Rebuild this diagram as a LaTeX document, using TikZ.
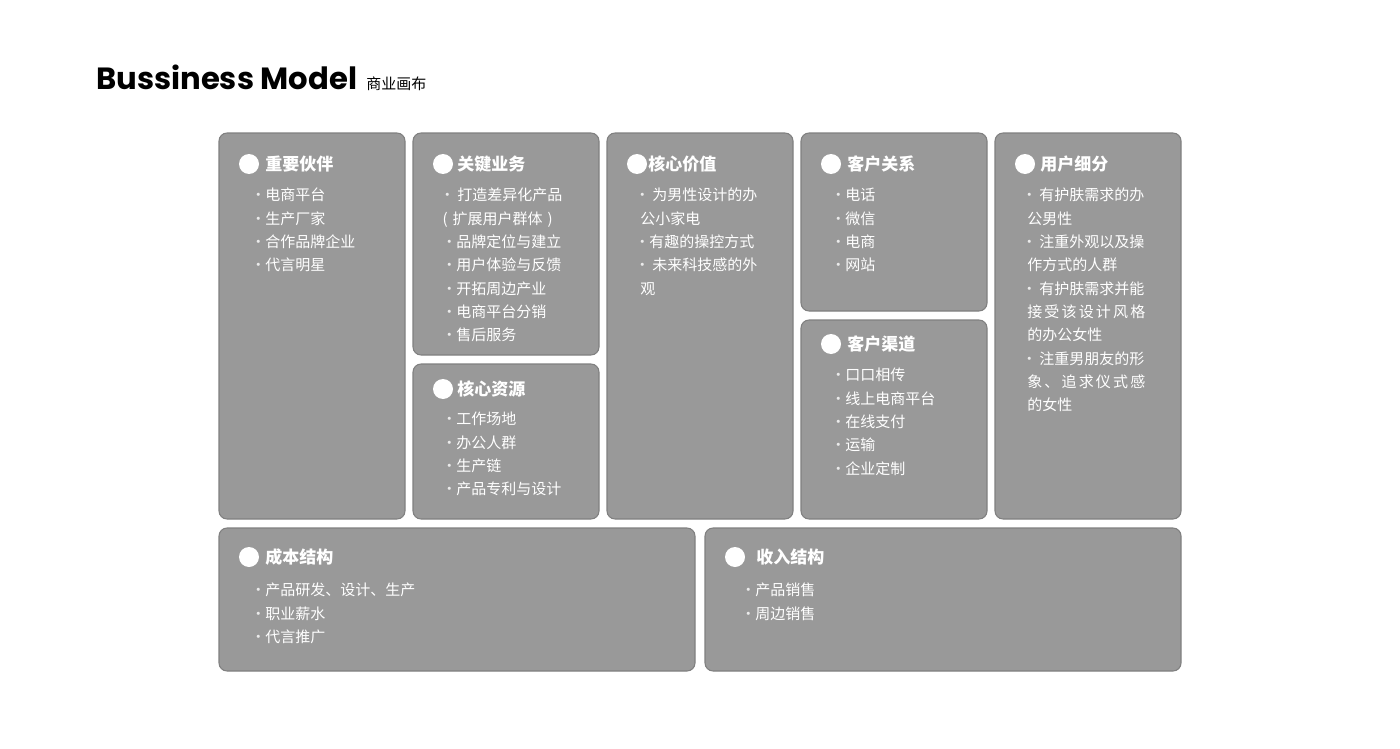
\documentclass[tikz,border=0pt]{standalone}
\usepackage{fontspec}
\usepackage{tikz}
\usetikzlibrary{positioning}
\newfontfamily\cjk{Noto Sans CJK SC}
\newfontfamily\titlefont{Poppins}
\definecolor{cardfill}{RGB}{153,153,153}
\definecolor{cardline}{RGB}{128,128,128}
\definecolor{dotgray}{RGB}{235,235,235}
% bullets: narrow dot, then a short or a wide gap
\newcommand\bul{\makebox[3pt]{\textcolor{dotgray}{·}}\hspace{3.75pt}}
\newcommand\wbul{\makebox[3pt]{\textcolor{dotgray}{·}}\hspace{6pt}}

\begin{document}
\begin{tikzpicture}[x=0.75pt,y=0.75pt,yscale=-1,xscale=1,
  card/.style={draw=cardline,fill=cardfill,line width=0.8,rounded corners=6},
  dot/.style={circle,fill=white,inner sep=0pt,minimum size=15pt},
  head/.style={anchor=west,inner sep=0.75pt,text=white,font=\cjk\bfseries\fontsize{12.75}{15}\selectfont},
  items/.style={anchor=north west,inner sep=0.75pt,text=white,align=left,font=\cjk\fontsize{11.25}{17.5}\selectfont}]
\useasboundingbox (0,0) rectangle (1400,749);

% Title
\node (title) [anchor=base west,inner sep=0pt,font=\titlefont\bfseries\fontsize{23}{28}\selectfont] at (96,90) {Bussiness Model};
\node (subtitle) [anchor=base west,inner sep=0pt,font=\cjk\fontsize{11.25}{14}\selectfont] at (366,90) {商业画布};

%Rounded Rect: cards
\draw [card] (219,133) rectangle (405,519);
\draw [card] (413,133) rectangle (599,355);
\draw [card] (413,364) rectangle (599,519);
\draw [card] (607,133) rectangle (793,519);
\draw [card] (801,133) rectangle (987,311);
\draw [card] (801,320) rectangle (987,519);
\draw [card] (995,133) rectangle (1181,519);
\draw [card] (219,528) rectangle (695,671);
\draw [card] (705,528) rectangle (1181,671);

% 重要伙伴
\node (partners-d) [dot] at (249,164) {};
\node (partners-h) [head] at (264,164) {重要伙伴};
\node (partners-t) [items] at (255,187) {\bul 电商平台\\\bul 生产厂家\\\bul 合作品牌企业\\\bul 代言明星};

% 关键业务
\node (activities-d) [dot] at (443,164) {};
\node (activities-h) [head] at (456,164) {关键业务};
\node (activities-t) [items] at (444,187) {\wbul 打造差异化产品\\\hspace*{-2pt}(\,\,扩展用户群体\,\,)\\\hspace*{1.5pt}\bul 品牌定位与建立\\\hspace*{1.5pt}\bul 用户体验与反馈\\\hspace*{1.5pt}\bul 开拓周边产业\\\hspace*{1.5pt}\bul 电商平台分销\\\hspace*{1.5pt}\bul 售后服务};

% 核心资源
\node (resources-d) [dot] at (443,389) {};
\node (resources-h) [head] at (456,389) {核心资源};
\node (resources-t) [items] at (446,411) {\bul 工作场地\\\bul 办公人群\\\bul 生产链\\\bul 产品专利与设计};

% 核心价值
\node (value-d) [dot] at (637,164) {};
\node (value-h) [head] at (647,164) {核心价值};
\node (value-t) [items] at (639,187) {\wbul 为男性设计的办\\公小家电\\\bul 有趣的操控方式\\\wbul 未来科技感的外\\观};

% 客户关系
\node (relations-d) [dot] at (831,164) {};
\node (relations-h) [head] at (846,164) {客户关系};
\node (relations-t) [items] at (835,187) {\bul 电话\\\bul 微信\\\bul 电商\\\bul 网站};

% 客户渠道
\node (channels-d) [dot] at (831,344) {};
\node (channels-h) [head] at (846,344) {客户渠道};
\node (channels-t) [items] at (835,367) {\bul 口口相传\\\bul 线上电商平台\\\bul 在线支付\\\bul 运输\\\bul 企业定制};

% 用户细分
\node (segments-d) [dot] at (1025,164) {};
\node (segments-h) [head] at (1039,164) {用户细分};
\node (segments-t) [items] at (1026,187) {\wbul 有护肤需求的办\\公男性\\\wbul 注重外观以及操\\作方式的人群\\\wbul 有护肤需求并能\\\makebox[88.5pt][s]{接\hfill 受\hfill 该\hfill 设\hfill 计\hfill 风\hfill 格}\\的办公女性\\\wbul 注重男朋友的形\\\makebox[88.5pt][s]{象\hfill 、\hfill 追\hfill 求\hfill 仪\hfill 式\hfill 感}\\的女性};

% 成本结构
\node (costs-d) [dot] at (249,557) {};
\node (costs-h) [head] at (264,557) {成本结构};
\node (costs-t) [items] at (255,582) {\bul 产品研发、设计、生产\\\bul 职业薪水\\\bul 代言推广};

% 收入结构
\node (revenue-d) [dot] at (735,557) {};
\node (revenue-h) [head] at (755,557) {收入结构};
\node (revenue-t) [items] at (745,582) {\bul 产品销售\\\bul 周边销售};

\end{tikzpicture}
\end{document}
